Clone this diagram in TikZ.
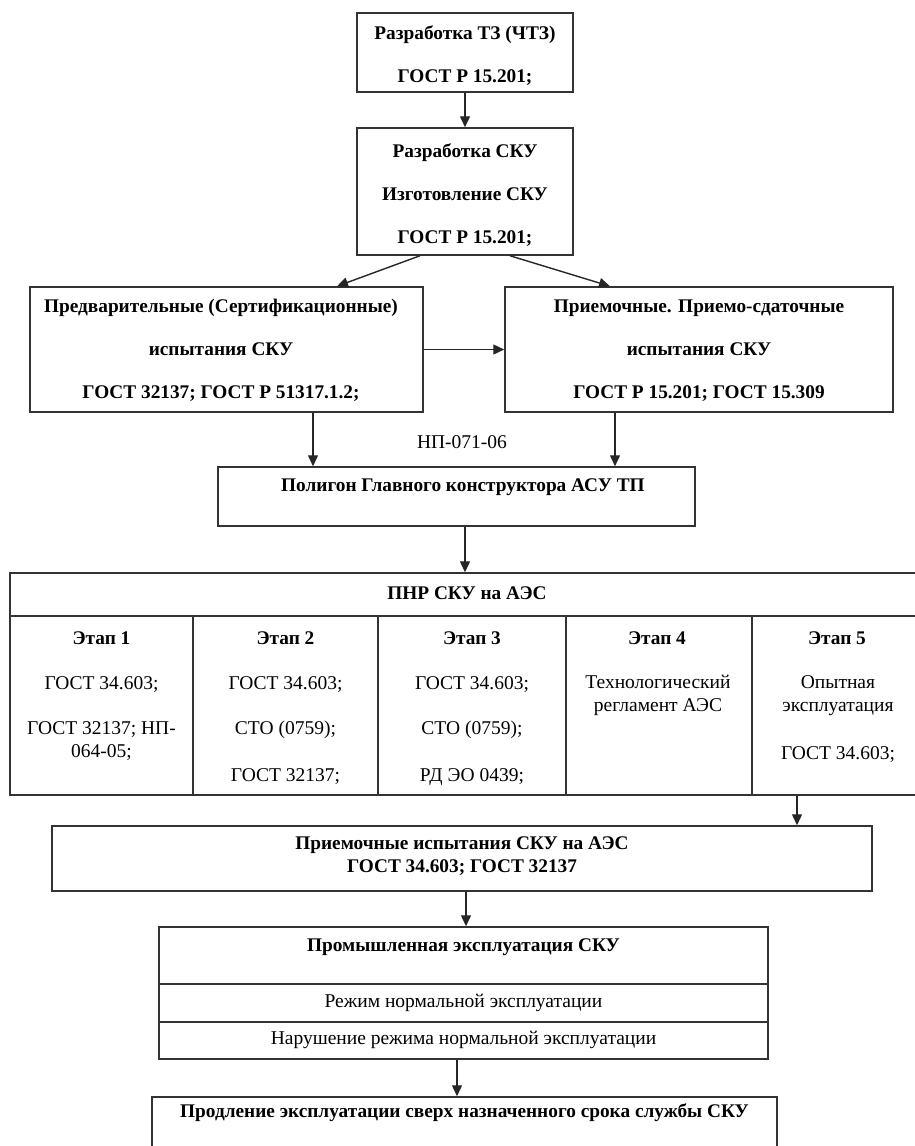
\documentclass[tikz,border=0pt]{standalone}
\usepackage{fontspec}
\setmainfont{Liberation Serif}
\usetikzlibrary{arrows.meta}
\tikzset{
  box/.style={draw=black!80, line width=1.5pt, rectangle, inner sep=0pt},
  arr/.style={-{Triangle[length=11pt,width=10pt]}, line width=1.4pt, draw=black!85},
  bt/.style={font=\fontsize{19.3}{43}\selectfont\bfseries, align=center, inner sep=0pt},
  rt/.style={font=\fontsize{19.5}{23}\selectfont, align=center, inner sep=0pt},
  bn/.style={font=\fontsize{19.3}{23}\selectfont\bfseries, align=center, inner sep=0pt}
}
\begin{document}
\begin{tikzpicture}[x=1pt,y=-1pt]
\useasboundingbox (0,0) rectangle (915,1146);
% top boxes
\node[box, minimum width=216, minimum height=79] (b1) at (465,52.5) {};
\node[bt] (b1t) at (465,56) {Разработка ТЗ (ЧТЗ)\\ГОСТ Р 15.201;};
\node[box, minimum width=216, minimum height=127] (b2) at (465,191.5) {};
\node[bt] (b2t) at (465,195) {Разработка СКУ\\Изготовление СКУ\\ГОСТ Р 15.201;};
\node[box, minimum width=393, minimum height=125] (b3) at (226.5,349.5) {};
\node[bt] (b3t) at (221,350.5) {Предварительные (Сертификационные)\\испытания СКУ\\ГОСТ 32137; ГОСТ Р 51317.1.2;};
\node[box, minimum width=388, minimum height=125] (b4) at (699,349.5) {};
\node[bt] (b4t) at (699,350.5) {Приемочные. Приемо-сдаточные\\испытания СКУ\\ГОСТ Р 15.201; ГОСТ 15.309};
\node[rt] (np) at (462,442) {НП-071-06};
\node[box, minimum width=477, minimum height=59] (b5) at (456.5,496.5) {};
\node[bn] (b5t) at (463,487) {Полигон Главного конструктора АСУ ТП};
% table
\node[box, minimum width=915, minimum height=43] (pnr) at (467.5,594.5) {};
\node[bn] (pnrt) at (467,593) {ПНР СКУ на АЭС};
\node[box, minimum width=183, minimum height=179] (st1) at (101.5,705.5) {};
\node[box, minimum width=185, minimum height=179] (st2) at (285.5,705.5) {};
\node[box, minimum width=188, minimum height=179] (st3) at (472,705.5) {};
\node[box, minimum width=186, minimum height=179] (st4) at (659,705.5) {};
\node[box, minimum width=173, minimum height=179] (st5) at (838.5,705.5) {};
\node[bn] (e1) at (101.5,638) {Этап 1};
\node[rt] (e1a) at (101.5,685) {ГОСТ 34.603;};
\node[rt] (e1b) at (101.5,741.5) {ГОСТ 32137; НП-\\064-05;};
\node[bn] (e2) at (285.5,638) {Этап 2};
\node[rt] (e2a) at (285.5,685) {ГОСТ 34.603;};
\node[rt] (e2b) at (285.5,730) {СТО (0759);};
\node[rt] (e2c) at (285.5,777) {ГОСТ 32137;};
\node[bn] (e3) at (472,638) {Этап 3};
\node[rt] (e3a) at (472,685) {ГОСТ 34.603;};
\node[rt] (e3b) at (472,730) {СТО (0759);};
\node[rt] (e3c) at (472,777) {РД ЭО 0439;};
\node[bn] (e4) at (657,638) {Этап 4};
\node[rt] (e4a) at (658,695.5) {Технологический\\регламент АЭС};
\node[bn] (e5) at (837,638) {Этап 5};
\node[rt] (e5a) at (838,695.5) {Опытная\\эксплуатация};
\node[rt] (e5b) at (838,755) {ГОСТ 34.603;};
% lower boxes
\node[box, minimum width=820, minimum height=65] (b7) at (462,858.5) {};
\node[bn] (b7t) at (462,856.5) {Приемочные испытания СКУ на АЭС\\ГОСТ 34.603; ГОСТ 32137};
\node[box, minimum width=609, minimum height=132] (b8) at (463.5,993) {};
\draw[box] (b8.west |- 0,984) coordinate (l1a) -- (l1a -| b8.east);
\draw[box] (b8.west |- 0,1022) coordinate (l2a) -- (l2a -| b8.east);
\node[bn] (b8t) at (463.5,947) {Промышленная эксплуатация СКУ};
\node[rt] (b8a) at (463.5,1003) {Режим нормальной эксплуатации};
\node[rt] (b8b) at (463.5,1040) {Нарушение режима нормальной эксплуатации};
\node[box, minimum width=625, minimum height=70] (b9) at (464.5,1132) {};
\node[bn] (b9t) at (464.5,1113) {Продление эксплуатации сверх назначенного срока службы СКУ};
% arrows
\draw[arr] (b1.south) -- (b2.north);
\draw[arr] ([xshift=-45]b2.south) -- ([xshift=110.5]b3.north);
\draw[arr] ([xshift=45]b2.south) -- ([xshift=-89]b4.north);
\draw[arr] (b3.east) -- (b4.west);
\draw[arr] ([xshift=86.5]b3.south) coordinate (p5) -- (p5 |- b5.north);
\draw[arr] ([xshift=-84]b4.south) coordinate (p6) -- (p6 |- b5.north);
\draw[arr] ([xshift=8.5]b5.south) coordinate (p7) -- (p7 |- pnr.north);
\draw[arr] ([xshift=-41.5]st5.south) coordinate (p8) -- (p8 |- b7.north);
\draw[arr] ([xshift=4]b7.south) coordinate (p9) -- (p9 |- b8.north);
\draw[arr] ([xshift=-6.5]b8.south) coordinate (p10) -- (p10 |- b9.north);
\end{tikzpicture}
\end{document}
